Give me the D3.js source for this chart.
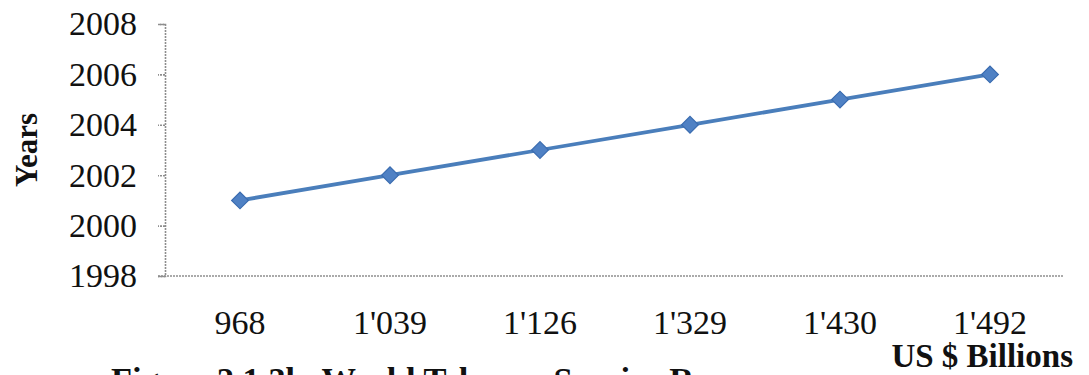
<!DOCTYPE html>
<html>
<head>
<meta charset="utf-8">
<script src="https://cdn.jsdelivr.net/npm/d3@7"></script>
<style>
  html, body { margin: 0; padding: 0; background: #fff; }
  svg { display: block; }
  svg text { font-family: "Liberation Serif", "Times New Roman", serif !important; fill: #111; }
</style>
</head>
<body>
<svg id="chart" width="1089" height="375"></svg>
<script>
// Revenue categories (US $ billions) and the year each belongs to
const revenue = ["968", "1'039", "1'126", "1'329", "1'430", "1'492"];
const years = [2001, 2002, 2003, 2004, 2005, 2006];
const yTicks = [1998, 2000, 2002, 2004, 2006, 2008];

const svg = d3.select("#chart");
const plotLeft = 165, plotRight = 1065, plotTop = 24, plotBottom = 276;

const x = d3.scaleBand().domain(revenue).range([plotLeft, plotRight]).padding(0);
const y = d3.scaleLinear().domain([1998, 2008]).range([plotBottom, plotTop]);

const axisColor = "#8e8e8e";
const serif = "Liberation Serif";

// Y axis
const yAxis = svg.append("g")
  .attr("transform", `translate(${plotLeft},0)`)
  .call(d3.axisLeft(y).tickValues(yTicks).tickSize(7).tickPadding(21).tickFormat(d3.format("d")))
  .attr("font-family", serif).attr("font-size", 34);
yAxis.select(".domain").attr("stroke", axisColor).attr("stroke-width", 1.6).attr("stroke-dasharray", "2,1");
yAxis.selectAll(".tick line").attr("stroke", axisColor).attr("stroke-width", 1.6).attr("stroke-dasharray", "2,1");
yAxis.selectAll(".tick text").attr("fill", "#111");

// X axis (no tick marks, extends left over the 1998 tick)
const xAxis = svg.append("g")
  .attr("transform", `translate(0,${plotBottom})`)
  .call(d3.axisBottom(x).tickSize(0).tickPadding(34).tickSizeOuter(0))
  .attr("font-family", serif).attr("font-size", 34);
xAxis.select(".domain").remove();
xAxis.append("line")
  .attr("x1", plotLeft - 7).attr("x2", plotRight - 2)
  .attr("stroke", axisColor).attr("stroke-width", 1.6).attr("stroke-dasharray", "2,1");
xAxis.selectAll(".tick text").attr("fill", "#111");

// Series line
const cx = d => x(d) + x.bandwidth() / 2;
svg.append("path")
  .datum(revenue.map((r, i) => [cx(r), y(years[i])]))
  .attr("fill", "none").attr("stroke", "#4a7ebb").attr("stroke-width", 3.8)
  .attr("d", d3.line());

// Diamond markers
svg.append("g").selectAll("path")
  .data(revenue.map((r, i) => ({ r, v: years[i] })))
  .join("path")
  .attr("transform", d => `translate(${cx(d.r)},${y(d.v)}) rotate(45)`)
  .attr("d", d3.symbol().type(d3.symbolSquare).size(140))
  .attr("fill", "#4f81c4").attr("stroke", "#3a6cb0").attr("stroke-width", 1.2);

// Axis titles
svg.append("text")
  .attr("transform", "translate(37,150) rotate(-90)")
  .attr("text-anchor", "middle")
  .attr("font-family", serif).attr("font-weight", "bold").attr("font-size", 31)
  .text("Years");

svg.append("text")
  .attr("x", 1073).attr("y", 367)
  .attr("text-anchor", "end")
  .attr("font-family", serif).attr("font-weight", "bold").attr("font-size", 33)
  .text("US $ Billions");

// Figure caption, running off the bottom edge
svg.append("text")
  .attr("x", 111).attr("y", 391)
  .attr("font-family", serif).attr("font-weight", "bold").attr("font-size", 34.5)
  .text("Figure 2.1.3b. World Telecom Service Revenue");
</script>
</body>
</html>
